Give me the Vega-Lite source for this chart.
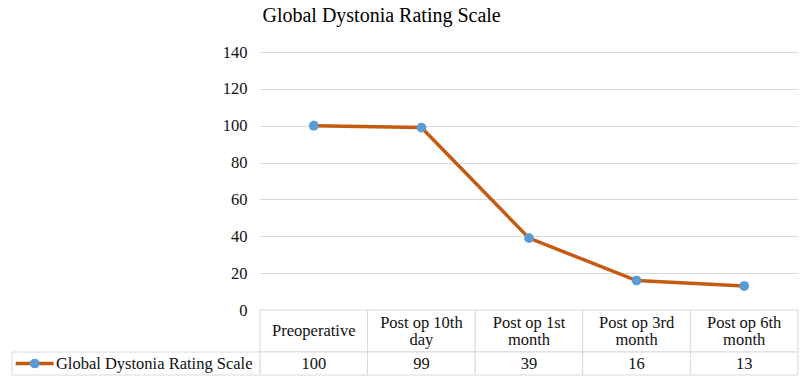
{
  "$schema": "https://vega.github.io/schema/vega-lite/v6.json",
  "padding": {"left": 8, "top": 6, "right": 6, "bottom": 3},
  "background": "white",
  "title": {"text": "Global Dystonia Rating Scale", "font": "Liberation Serif", "fontSize": 20, "fontWeight": "normal", "color": "#000000", "anchor": "middle", "dx": -22, "offset": 18},
  "config": {"view": {"stroke": null}, "font": "Liberation Serif"},
  "datasets": {
    "main": [
      {"cat": "Preoperative", "label": "Preoperative", "value": 100},
      {"cat": "Post op 10th day", "label": "Post op 10th\nday", "value": 99},
      {"cat": "Post op 1st month", "label": "Post op 1st\nmonth", "value": 39},
      {"cat": "Post op 3rd month", "label": "Post op 3rd\nmonth", "value": 16},
      {"cat": "Post op 6th month", "label": "Post op 6th\nmonth", "value": 13}
    ],
    "series": [{"series": "Global Dystonia Rating Scale"}]
  },
  "vconcat": [
    {
      "width": 538,
      "height": 258,
      "data": {"name": "main"},
      "encoding": {
        "x": {"field": "cat", "type": "nominal", "sort": null, "scale": {"type": "point", "padding": 0.5}, "axis": null},
        "y": {"field": "value", "type": "quantitative", "scale": {"domain": [0, 140], "nice": false},
          "axis": {"values": [0, 20, 40, 60, 80, 100, 120, 140], "title": null, "domain": false, "ticks": false, "labelPadding": 13, "labelFont": "Liberation Serif", "labelFontSize": 16.5, "labelColor": "#111111", "gridColor": "#d9d9d9", "gridWidth": 1}}
      },
      "layer": [
        {"mark": {"type": "line", "color": "#C55A11", "strokeWidth": 3.5}},
        {"mark": {"type": "point", "filled": true, "color": "#5B9BD5", "opacity": 1, "size": 95}}
      ]
    },
    {
      "width": 538,
      "height": 42,
      "data": {"name": "main"},
      "encoding": {
        "x": {"field": "cat", "type": "nominal", "sort": null, "scale": {"type": "band", "paddingInner": 0, "paddingOuter": 0}, "axis": null}
      },
      "layer": [
        {"mark": {"type": "rect", "fill": "white", "stroke": "#d9d9d9", "strokeWidth": 1}},
        {"transform": [{"filter": "indexof(datum.label, '\\n') >= 0"}],
         "mark": {"type": "text", "font": "Liberation Serif", "fontSize": 16.5, "color": "#111111", "lineBreak": "\n", "lineHeight": 17, "align": "center", "baseline": "middle", "dy": -8.5}, "encoding": {"text": {"field": "label"}}},
        {"transform": [{"filter": "indexof(datum.label, '\\n') < 0"}],
         "mark": {"type": "text", "font": "Liberation Serif", "fontSize": 16.5, "color": "#111111", "align": "center", "baseline": "middle"}, "encoding": {"text": {"field": "label"}}}
      ]
    },
    {
      "width": 538,
      "height": 23,
      "layer": [
        {
          "data": {"name": "main"},
          "encoding": {
            "x": {"field": "cat", "type": "nominal", "sort": null, "scale": {"type": "band", "paddingInner": 0, "paddingOuter": 0}, "axis": null}
          },
          "layer": [
            {"mark": {"type": "rect", "fill": "white", "stroke": "#d9d9d9", "strokeWidth": 1}},
            {"mark": {"type": "text", "font": "Liberation Serif", "fontSize": 16.5, "color": "#111111", "align": "center", "baseline": "middle"}, "encoding": {"text": {"field": "value"}}}
          ]
        },
        {
          "data": {"name": "series"},
          "layer": [
            {"mark": {"type": "rect", "fill": "white", "stroke": "#d9d9d9", "strokeWidth": 1},
             "encoding": {"x": {"field": "series", "type": "nominal", "scale": {"type": "band", "paddingInner": 0, "paddingOuter": 0, "range": [-248, 0]}, "axis": null}}},
            {"mark": {"type": "point", "shape": "M-1,0H1", "filled": false, "stroke": "#C55A11", "strokeWidth": 3.5, "size": 1444, "opacity": 1},
             "encoding": {"x": {"field": "series", "type": "nominal", "bandPosition": 0.0915, "axis": null}}},
            {"mark": {"type": "point", "filled": true, "color": "#5B9BD5", "size": 95, "opacity": 1},
             "encoding": {"x": {"field": "series", "type": "nominal", "bandPosition": 0.0915, "axis": null}}},
            {"mark": {"type": "text", "font": "Liberation Serif", "fontSize": 16.5, "color": "#111111", "align": "left", "baseline": "middle"},
             "encoding": {"x": {"field": "series", "type": "nominal", "bandPosition": 0.177, "axis": null}, "text": {"field": "series"}}}
          ]
        }
      ],
      "resolve": {"scale": {"x": "independent"}}
    }
  ],
  "spacing": 0,
  "bounds": "flush"
}
